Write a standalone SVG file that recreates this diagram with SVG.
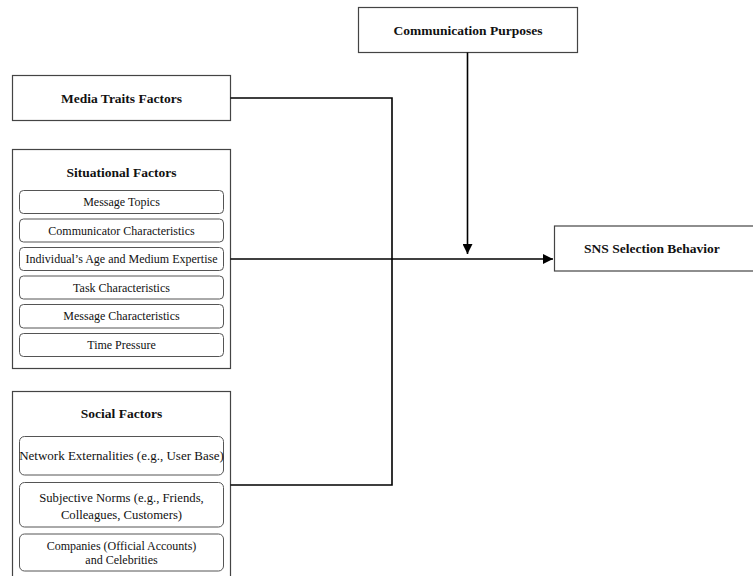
<svg xmlns="http://www.w3.org/2000/svg" width="753" height="576" viewBox="0 0 753 576">
<defs>
<marker id="ah" viewBox="0 0 10 10" refX="10" refY="5" markerWidth="10" markerHeight="10" markerUnits="userSpaceOnUse" orient="auto">
<path d="M0,0 L10,5 L0,10 z" fill="#000"/>
</marker>
<style>
.box{fill:#fff;stroke:#444;stroke-width:1.2}
.sub{fill:#fff;stroke:#555;stroke-width:1}
.t{font-family:"Liberation Serif","Times New Roman",serif;font-size:12px;fill:#111;text-anchor:middle}
.b{font-family:"Liberation Serif","Times New Roman",serif;font-size:13.5px;font-weight:bold;fill:#111;text-anchor:middle}
.c{fill:none;stroke:#000;stroke-width:1.6}
</style>
</defs>
<rect width="753" height="576" fill="#fff"/>
<g id="communication-purposes">
<rect class="box" x="358.5" y="7.5" width="219" height="45"/>
<text class="b" x="468" y="35">Communication Purposes</text>
</g>
<g id="media-traits">
<rect class="box" x="12.5" y="75.5" width="218" height="45"/>
<text class="b" x="121.5" y="103">Media Traits Factors</text>
</g>
<g id="situational">
<rect class="box" x="12.5" y="149.5" width="218" height="219"/>
<text class="b" x="121.5" y="177">Situational Factors</text>
<rect class="sub" x="19.5" y="190.5" width="204" height="23" rx="4"/>
<text class="t" x="121.5" y="206">Message Topics</text>
<rect class="sub" x="19.5" y="219" width="204" height="23" rx="4"/>
<text class="t" x="121.5" y="234.5">Communicator Characteristics</text>
<rect class="sub" x="19.5" y="247.5" width="204" height="23" rx="4"/>
<text class="t" x="121.5" y="263">Individual’s Age and Medium Expertise</text>
<rect class="sub" x="19.5" y="276" width="204" height="23" rx="4"/>
<text class="t" x="121.5" y="291.5">Task Characteristics</text>
<rect class="sub" x="19.5" y="304.5" width="204" height="23.5" rx="4"/>
<text class="t" x="121.5" y="320">Message Characteristics</text>
<rect class="sub" x="19.5" y="333.5" width="204" height="23" rx="4"/>
<text class="t" x="121.5" y="349">Time Pressure</text>
</g>
<g id="social">
<rect class="box" x="12.5" y="391.5" width="218" height="200"/>
<text class="b" x="121.5" y="417.5">Social Factors</text>
<rect class="sub" x="19.5" y="436.5" width="204" height="38.5" rx="5"/>
<text class="t" x="121.5" y="460" style="font-size:13px">Network Externalities (e.g., User Base)</text>
<rect class="sub" x="19.5" y="482.5" width="204" height="44.5" rx="5"/>
<text class="t" x="121.5" y="501.5" style="font-size:12.7px">Subjective Norms (e.g., Friends,</text>
<text class="t" x="121.5" y="518.5" style="font-size:12.7px">Colleagues, Customers)</text>
<rect class="sub" x="19.5" y="534" width="204" height="37" rx="5"/>
<text class="t" x="121.5" y="550">Companies (Official Accounts)</text>
<text class="t" x="121.5" y="564">and Celebrities</text>
</g>
<g id="sns">
<rect class="box" x="554.5" y="226" width="200" height="45"/>
<text class="b" x="652" y="253">SNS Selection Behavior</text>
</g>
<g id="connectors">
<path class="c" d="M230.5,98 H392 V485 H230.5"/>
<path class="c" d="M230.5,259 H553" marker-end="url(#ah)"/>
<path class="c" d="M467.5,52.5 V254" marker-end="url(#ah)"/>
</g>
</svg>
